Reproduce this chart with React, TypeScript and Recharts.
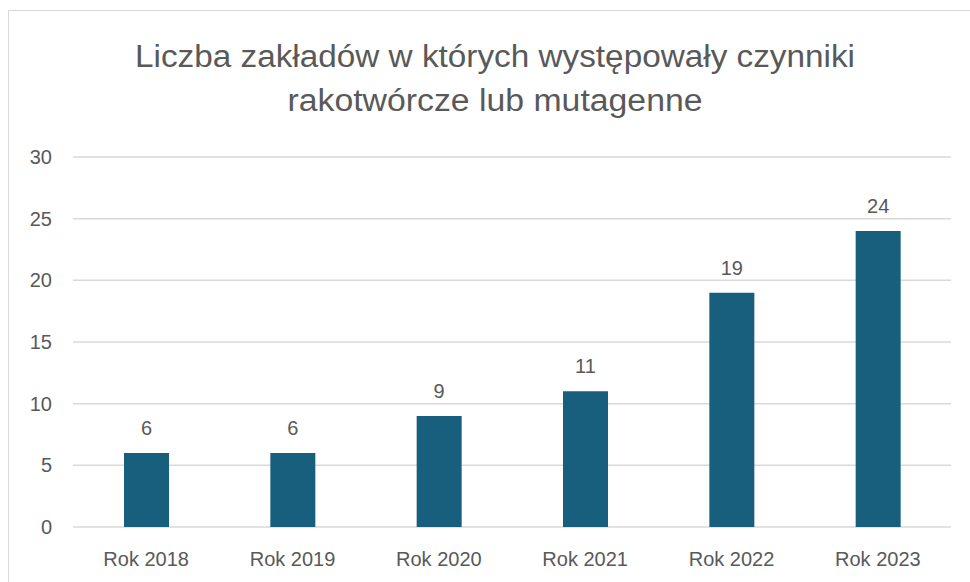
import React from "react";
import { BarChart, Bar, XAxis, YAxis, CartesianGrid, LabelList } from "recharts";

const categories = ["Rok 2018", "Rok 2019", "Rok 2020", "Rok 2021", "Rok 2022", "Rok 2023"];
const values = [6, 6, 9, 11, 19, 24];
const yTicks = [0, 5, 10, 15, 20, 25, 30];
const titleLines = ["Liczba zakładów w których występowały czynniki", "rakotwórcze lub mutagenne"];

const data = categories.map((name, i) => ({ name, value: values[i] }));

const TEXT = "#595959";
const GRID = "#d9d9d9";
const BAR = "#185F7E";
const FONT = "'Liberation Sans', Arial, sans-serif";

export default function App() {
  return (
    <div style={{ position: "absolute", left: 0, top: 0, width: 970, height: 582, overflow: "hidden", background: "#fff" }}>
      <div style={{ position: "absolute", left: 8, top: 10, width: 1000, height: 1000, border: `1px solid ${GRID}`, boxSizing: "border-box" }} />
      <svg width={970} height={140} style={{ position: "absolute", left: 0, top: 0 }}>
        <text x={495} y={67} textAnchor="middle" fontFamily="'Liberation Sans Narrow', 'Liberation Sans', sans-serif" fontSize={31} fill={TEXT} textLength={720} lengthAdjust="spacingAndGlyphs">{titleLines[0]}</text>
        <text x={495} y={111} textAnchor="middle" fontFamily="'Liberation Sans Narrow', 'Liberation Sans', sans-serif" fontSize={31} fill={TEXT} textLength={415} lengthAdjust="spacingAndGlyphs">{titleLines[1]}</text>
      </svg>
      <div style={{ position: "absolute", left: 0, top: 0 }}>
        <BarChart width={970} height={582} data={data} margin={{ top: 157, right: 19, left: 13, bottom: 0 }}>
          <CartesianGrid vertical={false} stroke={GRID} strokeWidth={1.5} />
          <XAxis dataKey="name" axisLine={false} tickLine={false} tickSize={0} tickMargin={25} height={55}
            tick={{ fill: TEXT, fontSize: 20, fontFamily: FONT }} interval={0} />
          <YAxis domain={[0, 30]} ticks={yTicks} axisLine={false} tickLine={false} tickSize={0} tickMargin={21} width={60}
            tick={{ fill: TEXT, fontSize: 20, fontFamily: FONT }} />
          <Bar dataKey="value" fill={BAR} barSize={45} isAnimationActive={false}>
            <LabelList dataKey="value" position="top" offset={18} fill={TEXT} fontSize={20} fontFamily={FONT} />
          </Bar>
        </BarChart>
      </div>
    </div>
  );
}
